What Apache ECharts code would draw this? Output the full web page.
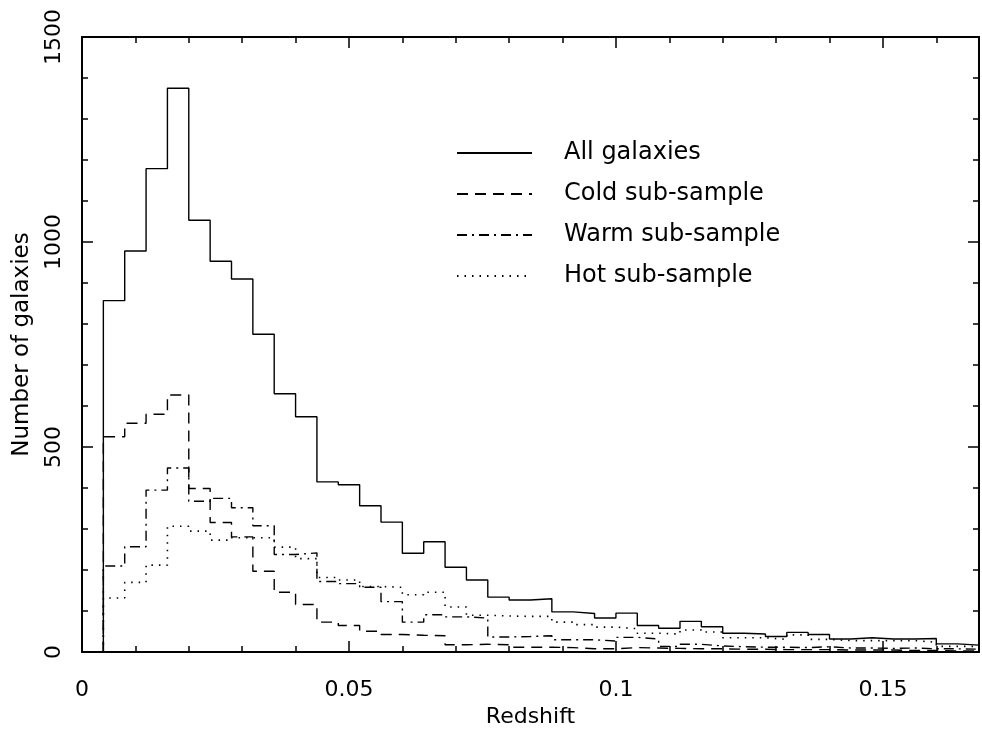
<!DOCTYPE html>
<html>
<head>
<meta charset="utf-8">
<script src="https://cdn.jsdelivr.net/npm/echarts@6/dist/echarts.min.js"></script>
<style>html,body{margin:0;padding:0;background:#fff}#chart{width:982px;height:733px}</style>
</head>
<body>
<div id="chart"></div>
<script>
// Bin edges (redshift), 41 bins of width 0.004
const binEdges = [0.004,0.008,0.012,0.016,0.020,0.024,0.028,0.032,0.036,0.040,0.044,0.048,0.052,0.056,0.060,0.064,0.068,0.072,0.076,0.080,0.084,0.088,0.092,0.096,0.100,0.104,0.108,0.112,0.116,0.120,0.124,0.128,0.132,0.136,0.140,0.144,0.148,0.152,0.156,0.160,0.164,0.168];

const allGalaxies = [857,978,1179,1375,1053,953,910,775,630,574,415,408,357,317,241,269,207,176,134,127,130,98,94,83,95,65,58,75,62,46,44,38,48,43,32,35,32,32,33,20,17];
const coldSample  = [525,558,580,627,399,316,281,197,146,116,73,65,51,43,41,40,18,19,18,12,12,11,8,8,11,10,9,8,8,7,7,6,6,6,5,5,5,4,4,3,3];
const warmSample  = [210,257,395,449,368,375,352,308,238,242,172,167,158,123,73,91,86,83,37,38,40,30,30,27,36,32,14,19,15,13,12,12,11,13,10,10,9,10,8,8,7];
const hotSample   = [132,170,212,307,295,273,279,279,256,228,182,176,160,158,140,146,110,90,88,87,87,73,67,61,57,46,44,54,49,35,35,31,42,31,28,28,28,28,24,14,14];

const seriesNames = ['All galaxies','Cold sub-sample','Warm sub-sample','Hot sub-sample'];
const xTickLabels = ['0','0.05','0.1','0.15'];
const yTickLabels = ['0','500','1000','1500'];

function stepData(values) {
  const pts = [[binEdges[0], 0]];
  values.forEach((v, i) => { pts.push([binEdges[i], v], [binEdges[i + 1], v]); });
  return pts;
}

const FONT = 'DejaVu Sans';
const chart = echarts.init(document.getElementById('chart'), null, {renderer: 'canvas'});

function xAx(pos, interval, len, showLabel, showLine) {
  return {
    type: 'value', min: 0, max: 0.168, interval: interval, position: pos,
    axisLine: {show: showLine, onZero: false, lineStyle: {color: '#000', width: 2}},
    axisTick: {show: true, inside: true, length: len, lineStyle: {color: '#000', width: 1.5}},
    axisLabel: {show: showLabel, showMaxLabel: false, margin: 27, color: '#000', fontFamily: FONT, fontSize: 22,
      formatter: v => { const s = String(+v.toFixed(3)); return xTickLabels.indexOf(s) >= 0 ? s : ''; }},
    splitLine: {show: false}
  };
}
function yAx(pos, interval, len, showLabel, showLine) {
  return {
    type: 'value', min: 0, max: 1500, interval: interval, position: pos,
    axisLine: {show: showLine, onZero: false, lineStyle: {color: '#000', width: 2}},
    axisTick: {show: true, inside: true, length: len, lineStyle: {color: '#000', width: 1.5}},
    axisLabel: {show: showLabel, rotate: 90, margin: 17, color: '#000', fontFamily: FONT, fontSize: 22,
      formatter: v => { const s = String(v); return yTickLabels.indexOf(s) >= 0 ? s : ''; }},
    splitLine: {show: false}
  };
}

const xAxes = [xAx('bottom', 0.05, 11, true, true), xAx('bottom', 0.01, 6, false, false),
               xAx('top', 0.05, 11, false, true), xAx('top', 0.01, 6, false, false)];
xAxes[0].name = 'Redshift';
xAxes[0].nameLocation = 'middle';
xAxes[0].nameGap = 52;
xAxes[0].nameTextStyle = {color: '#000', fontFamily: FONT, fontSize: 22};

const yAxes = [yAx('left', 500, 11, true, true), yAx('left', 100, 6, false, false),
               yAx('right', 500, 11, false, true), yAx('right', 100, 6, false, false)];
yAxes[0].name = 'Number of galaxies';
yAxes[0].nameLocation = 'middle';
yAxes[0].nameGap = 48;
yAxes[0].nameTextStyle = {color: '#000', fontFamily: FONT, fontSize: 23};

const styles = [
  {type: 'solid', width: 1.4},
  {type: [11, 7], width: 1.4},
  {type: [10, 5, 2, 5], width: 1.4},
  {type: [1.5, 6], width: 1.6}
];
const dataSets = [allGalaxies, coldSample, warmSample, hotSample];

chart.setOption({
  backgroundColor: '#fff',
  animation: false,
  grid: {left: 82, right: 3, top: 37, bottom: 78},
  legend: {
    orient: 'vertical', left: 456, top: 141, padding: 0,
    itemWidth: 75, itemHeight: 14, itemGap: 17,
    itemStyle: {opacity: 0},
    formatter: name => '{g|}{t|' + name + '}',
    textStyle: {color: '#000', fontFamily: FONT, fontSize: 24,
      rich: {g: {width: 27}, t: {color: '#000', fontFamily: FONT, fontSize: 24}}},
    data: seriesNames
  },
  xAxis: xAxes,
  yAxis: yAxes,
  series: dataSets.map((d, i) => ({
    name: seriesNames[i], type: 'line', data: stepData(d),
    xAxisIndex: 0, yAxisIndex: 0, symbol: 'none', showSymbol: false,
    lineStyle: Object.assign({color: '#000'}, styles[i]),
    itemStyle: {color: '#000'}, z: 4 - i
  }))
});
</script>
</body>
</html>
